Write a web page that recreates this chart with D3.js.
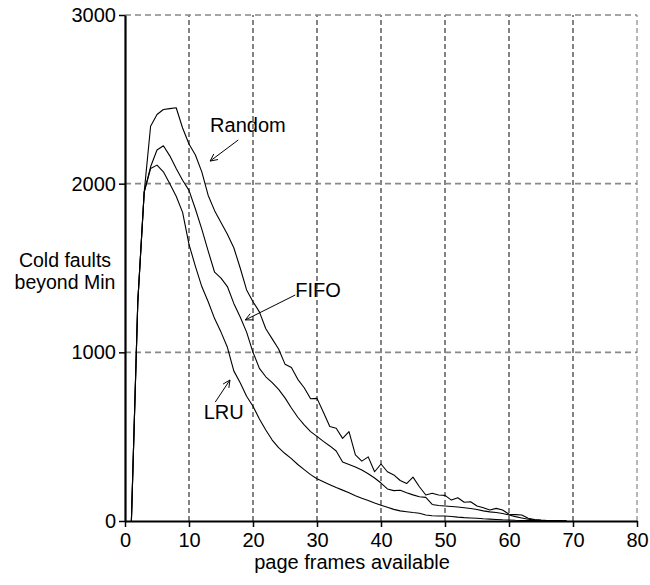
<!DOCTYPE html>
<html>
<head>
<meta charset="utf-8">
<script src="https://cdn.jsdelivr.net/npm/d3@7"></script>
<style>
  body { margin: 0; background: #fff; }
  text { font-family: "Liberation Sans", Arial, sans-serif; }
</style>
</head>
<body>
<div id="chart"></div>
<script>
// page frames available (x) for every series
var frames = [1,2,3,4,5,6,7,8,9,10,11,12,13,14,15,16,17,18,19,20,
  21,22,23,24,25,26,27,28,29,30,31,32,33,34,35,36,37,38,39,40,
  41,42,43,44,45,46,47,48,49,50,51,52,53,54,55,56,57,58,59,60,
  61,62,63,64,65,66,67,68,69];

// cold faults beyond Min
var randomFaults = [0,1300,1950,2340,2410,2440,2445,2450,2330,2235,
  2170,2070,1930,1840,1770,1700,1620,1500,1370,1300,
  1240,1140,1080,1020,930,910,840,790,725,727,
  645,560,550,490,530,392,355,380,292,338,
  292,273,240,222,260,203,154,164,154,152,
  124,138,111,114,89,78,65,75,65,40,
  38,36,16,8,5,3,2,1,0];
var fifoFaults = [0,1300,1950,2100,2200,2225,2165,2090,2020,1960,
  1850,1730,1600,1475,1440,1390,1290,1210,1120,1000,
  905,855,820,780,730,670,615,570,530,502,
  472,445,415,350,335,320,302,280,255,225,
  190,180,182,168,155,144,140,98,92,89,
  86,83,79,74,68,60,54,50,44,36,
  26,18,10,6,4,3,2,1,0];
var lruFaults = [0,1300,1950,2090,2110,2070,2000,1925,1830,1640,
  1510,1390,1300,1200,1120,1030,890,820,740,680,
  605,540,480,435,400,370,335,305,275,250,
  232,215,198,183,168,150,135,122,107,93,
  81,69,60,55,50,46,36,31,30,30,
  27,23,20,18,16,13,11,9,7,6,
  4,3,2,2,1,1,1,0,0];

var xTicks = [0,10,20,30,40,50,60,70,80];
var yTicks = [0,1000,2000,3000];

// label text, position (data units) and arrow from -> to
var notes = [
  { name: "Random", tx: 13.3, ty: 2306, from: [17.7, 2259], to: [13.3, 2134] },
  { name: "FIFO",   tx: 26.6, ty: 1328, from: [26.6, 1340], to: [18.8, 1192] },
  { name: "LRU",    tx: 12.3, ty: 605,  from: [14.1, 705],  to: [16.4, 836] }
];

var W = 650, H = 585;
var margin = { top: 15, right: 13, bottom: 64, left: 125 };

var svg = d3.select("#chart").append("svg")
  .attr("width", W).attr("height", H);

var x = d3.scaleLinear().domain([0, 80]).range([margin.left, W - margin.right]);
var y = d3.scaleLinear().domain([0, 3000]).range([H - margin.bottom, margin.top]);

// grid
svg.append("g").selectAll("line")
  .data(xTicks.slice(1))
  .enter().append("line")
  .attr("x1", d => x(d)).attr("x2", d => x(d))
  .attr("y1", y(0)).attr("y2", y(3000))
  .attr("stroke", (d) => d == 80 ? "#888" : "#333")
  .attr("stroke-width", 1.2)
  .attr("stroke-dasharray", "5,3");

svg.append("g").selectAll("line")
  .data(yTicks.slice(1))
  .enter().append("line")
  .attr("x1", x(0)).attr("x2", x(80))
  .attr("y1", d => y(d)).attr("y2", d => y(d))
  .attr("stroke", "#888")
  .attr("stroke-width", 1.6)
  .attr("stroke-dasharray", "6,4");

// lines
var line = d3.line()
  .x((d, i) => x(frames[i]))
  .y(d => y(d));

[randomFaults, fifoFaults, lruFaults].forEach(function (s) {
  svg.append("path")
    .datum(s)
    .attr("d", line)
    .attr("fill", "none")
    .attr("stroke", "#000")
    .attr("stroke-width", 1.1)
    .attr("stroke-linejoin", "round");
});

// axes
var xAxis = svg.append("g")
  .attr("transform", "translate(0," + y(0) + ")")
  .call(d3.axisBottom(x).tickValues(xTicks).tickFormat(d3.format("d"))
    .tickSize(6).tickPadding(6).tickSizeOuter(0));
var yAxis = svg.append("g")
  .attr("transform", "translate(" + x(0) + ",0)")
  .call(d3.axisLeft(y).tickValues(yTicks).tickFormat(d3.format("d"))
    .tickSize(6).tickPadding(3).tickSizeOuter(0));

[xAxis, yAxis].forEach(function (a) {
  a.select(".domain").attr("stroke", "#000").attr("stroke-width", 2.2);
  a.selectAll(".tick line").attr("stroke", "#000").attr("stroke-width", 1.5);
  a.selectAll(".tick text")
    .attr("fill", "#000")
    .style("font-size", "20px")
    .style("font-family", "'Liberation Sans', Arial, sans-serif");
});

// axis titles
svg.append("text")
  .attr("x", 352).attr("y", 569)
  .attr("text-anchor", "middle")
  .style("font-size", "20px")
  .text("page frames available");

svg.append("text")
  .attr("x", 65).attr("y", 267)
  .attr("text-anchor", "middle")
  .style("font-size", "19.5px")
  .text("Cold faults");
svg.append("text")
  .attr("x", 65).attr("y", 289)
  .attr("text-anchor", "middle")
  .style("font-size", "19.5px")
  .text("beyond Min");

// annotations with open arrowheads
notes.forEach(function (n) {
  svg.append("text")
    .attr("x", x(n.tx)).attr("y", y(n.ty))
    .style("font-size", "20px")
    .text(n.name);

  var x1 = x(n.from[0]), y1 = y(n.from[1]);
  var x2 = x(n.to[0]), y2 = y(n.to[1]);
  svg.append("line")
    .attr("x1", x1).attr("y1", y1).attr("x2", x2).attr("y2", y2)
    .attr("stroke", "#000").attr("stroke-width", 1);
  var ang = Math.atan2(y1 - y2, x1 - x2);
  [-0.45, 0.45].forEach(function (da) {
    svg.append("line")
      .attr("x1", x2).attr("y1", y2)
      .attr("x2", x2 + 8 * Math.cos(ang + da))
      .attr("y2", y2 + 8 * Math.sin(ang + da))
      .attr("stroke", "#000").attr("stroke-width", 1);
  });
});
</script>
</body>
</html>
